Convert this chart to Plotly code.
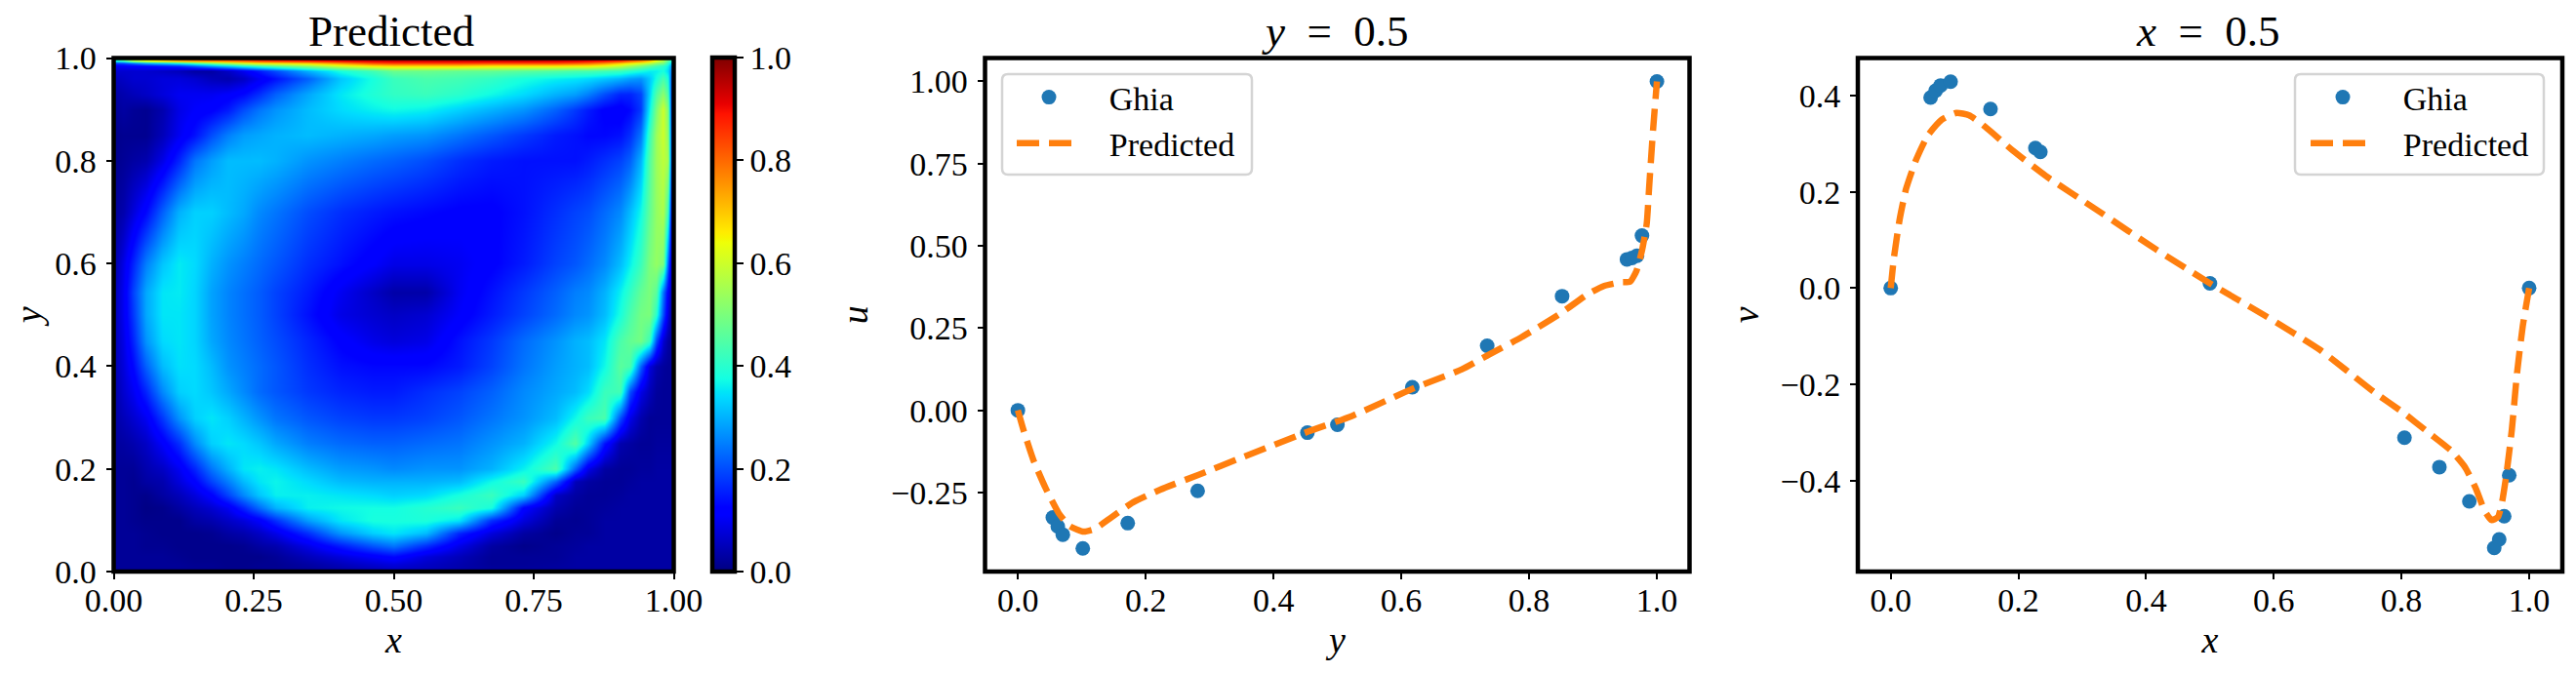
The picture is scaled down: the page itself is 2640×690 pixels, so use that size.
import plotly.graph_objects as go

# Centerline benchmark points
ghia_y = [0, 0.0547, 0.0625, 0.0703, 0.1016, 0.1719, 0.2813, 0.4531, 0.5, 0.6172, 0.7344, 0.8516, 0.9531, 0.9609, 0.9688, 0.9766, 1]
ghia_u = [0, -0.326, -0.353, -0.378, -0.42, -0.343, -0.245, -0.068, -0.044, 0.07, 0.196, 0.347, 0.459, 0.463, 0.47, 0.531, 1]
ghia_x = [0, 0.0625, 0.0703, 0.0781, 0.0938, 0.1563, 0.2266, 0.2344, 0.5, 0.8047, 0.8594, 0.9063, 0.9453, 0.9531, 0.9609, 0.9688, 1]
ghia_v = [0, 0.396, 0.41, 0.421, 0.429, 0.372, 0.291, 0.283, 0.01, -0.311, -0.372, -0.443, -0.54, -0.522, -0.474, -0.389, 0]

# Predicted curves
pred_y = [0, 0.0086, 0.024, 0.043, 0.064, 0.081, 0.103, 0.12, 0.146, 0.18, 0.223, 0.283, 0.351, 0.454, 0.523, 0.617,
          0.694, 0.737, 0.788, 0.848, 0.891, 0.917, 0.943, 0.958, 0.968, 0.977, 0.984, 0.988, 0.994, 1]
pred_u = [0, -0.059, -0.15, -0.235, -0.313, -0.352, -0.369, -0.361, -0.326, -0.28, -0.241, -0.196, -0.143, -0.065, -0.017, 0.065,
          0.124, 0.169, 0.222, 0.293, 0.352, 0.378, 0.389, 0.391, 0.424, 0.489, 0.567, 0.684, 0.854, 1]
pred_x = [0, 0.005, 0.014, 0.024, 0.039, 0.058, 0.08, 0.103, 0.123, 0.148, 0.191, 0.243, 0.329, 0.415, 0.5, 0.586, 0.672,
          0.758, 0.801, 0.844, 0.878, 0.9, 0.917, 0.93, 0.941, 0.951, 0.957, 0.964, 0.973, 0.981, 0.99, 1]
pred_v = [0, 0.063, 0.143, 0.206, 0.264, 0.317, 0.35, 0.364, 0.359, 0.335, 0.286, 0.233, 0.157, 0.081, 0.01, -0.057, -0.128,
          -0.217, -0.257, -0.302, -0.338, -0.373, -0.418, -0.462, -0.482, -0.476, -0.449, -0.391, -0.293, -0.177, -0.079, 0]

# Velocity magnitude, on a grid that gets finer near the walls
grid_x = [0, .017, .035, .058, .087, .116, .145, .174, .203, .231, .26, .289, .347, .405, .463, .5,
          .558, .616, .674, .731, .789, .824, .847, .876, .905, .922, .94, .957, .969, .98, .989, .995, 1]
grid_y = [0, .015, .03, .05, .075, .1, .125, .15, .175, .2, .25, .3, .35, .4, .45, .5, .544, .6, .7, .8, .85, .9, .93, .96,
          .975, .985, .99, .995, 1]
speed = [
    [.02, .02, .02, .02, .02, .02, .02, .015, .015, .015, .015, .02, .02, .03, .04, .05, .05, .04, .03, .03, .03, .03, .03, .03, .03, .03, .03, .03, .03, .03, .03, .03, .03],
    [.02, .02, .02, .02, .02, .02, .015, .015, .01, .01, .015, .015, .03, .05, .07, .08, .06, .04, .02, .02, .025, .03, .03, .03, .03, .03, .03, .03, .03, .03, .03, .03, .03],
    [.02, .02, .02, .02, .02, .015, .01, .01, .01, .01, .01, .02, .05, .08, .11, .13, .08, .05, .02, .02, .02, .03, .03, .03, .03, .03, .03, .03, .03, .03, .03, .03, .03],
    [.02, .02, .02, .015, .015, .01, .01, .01, .01, .015, .03, .04, .09, .15, .21, .24, .17, .09, .03, .01, .02, .025, .03, .03, .03, .03, .03, .03, .03, .03, .03, .03, .03],
    [.02, .02, .02, .015, .01, .01, .01, .015, .03, .04, .06, .09, .17, .27, .33, .35, .31, .16, .08, .03, .01, .02, .02, .03, .03, .03, .03, .03, .03, .03, .03, .03, .03],
    [.02, .02, .015, .01, .01, .01, .03, .04, .06, .08, .11, .17, .28, .35, .38, .38, .385, .35, .17, .08, .02, .015, .02, .03, .03, .03, .03, .03, .03, .03, .03, .03, .03],
    [.02, .02, .015, .005, .01, .03, .05, .07, .10, .16, .23, .30, .36, .37, .375, .375, .395, .42, .38, .12, .04, .02, .02, .025, .03, .03, .03, .03, .03, .03, .03, .03, .03],
    [.02, .02, .015, .01, .03, .05, .08, .12, .19, .26, .32, .36, .36, .35, .34, .33, .34, .38, .42, .33, .06, .03, .02, .02, .025, .03, .03, .03, .03, .03, .03, .03, .03],
    [.02, .02, .015, .03, .04, .08, .12, .19, .25, .31, .35, .365, .34, .31, .30, .30, .30, .31, .37, .42, .22, .05, .03, .02, .02, .025, .03, .03, .03, .03, .03, .03, .03],
    [.02, .02, .02, .04, .06, .10, .16, .24, .30, .35, .36, .35, .31, .28, .27, .26, .27, .27, .30, .36, .44, .22, .09, .03, .02, .02, .025, .025, .03, .03, .03, .03, .03],
    [.025, .03, .04, .06, .11, .17, .26, .33, .35, .34, .32, .29, .25, .23, .22, .22, .23, .24, .27, .30, .37, .45, .33, .14, .04, .03, .02, .02, .025, .025, .025, .025, .025],
    [.03, .05, .07, .10, .18, .27, .33, .35, .33, .30, .27, .24, .21, .19, .18, .18, .19, .21, .24, .27, .31, .37, .42, .44, .20, .09, .04, .02, .02, .02, .02, .02, .02],
    [.03, .07, .10, .16, .26, .33, .34, .32, .29, .26, .23, .21, .18, .16, .15, .15, .17, .19, .22, .26, .29, .31, .34, .42, .43, .20, .09, .05, .025, .02, .02, .02, .02],
    [.04, .08, .13, .22, .31, .345, .34, .31, .27, .25, .23, .21, .17, .14, .13, .13, .13, .15, .19, .24, .28, .30, .31, .37, .46, .44, .22, .08, .04, .025, .02, .02, .02],
    [.04, .09, .16, .27, .34, .35, .335, .29, .26, .24, .22, .20, .16, .12, .09, .08, .09, .14, .18, .23, .27, .30, .31, .35, .44, .47, .49, .42, .20, .07, .03, .02, .02],
    [.04, .10, .18, .29, .35, .35, .335, .285, .255, .235, .215, .19, .14, .09, .07, .06, .07, .11, .15, .19, .23, .26, .27, .31, .38, .44, .49, .50, .40, .20, .08, .03, .02],
    [.04, .10, .19, .29, .35, .355, .335, .285, .255, .235, .215, .19, .15, .10, .06, .035, .035, .10, .14, .18, .22, .25, .26, .30, .36, .41, .47, .50, .46, .24, .11, .05, .02],
    [.03, .09, .16, .25, .32, .355, .34, .30, .27, .25, .23, .21, .17, .14, .11, .09, .09, .10, .12, .15, .19, .21, .23, .26, .31, .36, .42, .50, .53, .50, .22, .08, .03],
    [.02, .04, .08, .13, .22, .30, .33, .33, .31, .29, .26, .24, .20, .17, .15, .14, .13, .12, .12, .14, .17, .19, .20, .23, .26, .31, .37, .47, .53, .56, .42, .15, .04],
    [.01, .02, .03, .04, .09, .16, .24, .28, .31, .31, .31, .30, .27, .25, .23, .22, .20, .17, .15, .14, .14, .14, .15, .17, .19, .22, .30, .45, .54, .58, .55, .22, .05],
    [.01, .015, .015, .015, .05, .10, .14, .20, .25, .28, .29, .30, .31, .30, .29, .28, .27, .24, .21, .18, .15, .14, .13, .13, .14, .17, .24, .42, .54, .60, .52, .22, .06],
    [.02, .03, .02, .015, .04, .09, .11, .12, .15, .20, .24, .27, .31, .34, .36, .37, .36, .33, .30, .27, .22, .18, .15, .12, .11, .13, .18, .36, .50, .60, .50, .20, .07],
    [.03, .04, .05, .06, .08, .10, .10, .10, .11, .13, .17, .22, .29, .35, .39, .41, .42, .40, .37, .34, .30, .28, .25, .20, .16, .16, .19, .33, .45, .52, .44, .20, .09],
    [.05, .06, .07, .07, .08, .08, .07, .05, .04, .06, .10, .14, .22, .32, .38, .42, .44, .43, .41, .38, .36, .35, .34, .32, .30, .28, .27, .32, .38, .44, .38, .22, .11],
    [.07, .07, .07, .07, .06, .05, .03, .03, .06, .10, .15, .20, .30, .38, .43, .48, .48, .47, .47, .46, .45, .44, .44, .43, .42, .40, .38, .36, .36, .38, .34, .25, .13],
    [.10, .11, .12, .13, .15, .17, .22, .28, .33, .38, .42, .46, .52, .60, .66, .68, .68, .68, .66, .66, .66, .65, .65, .62, .58, .54, .50, .46, .43, .40, .36, .28, .16],
    [.18, .20, .24, .30, .34, .38, .44, .50, .56, .62, .66, .67, .70, .76, .83, .85, .85, .85, .84, .84, .84, .82, .80, .76, .70, .66, .62, .58, .53, .50, .40, .34, .18],
    [.36, .42, .55, .62, .67, .72, .75, .77, .78, .80, .83, .85, .87, .90, .92, .93, .93, .93, .93, .93, .92, .91, .90, .88, .85, .80, .76, .70, .62, .55, .45, .40, .20],
    [.36, .52, .60, .66, .72, .78, .80, .82, .85, .87, .90, .92, .95, .97, .99, 1.0, 1.0, 1.0, 1.0, 1.0, 1.0, .99, .98, .96, .92, .88, .82, .76, .68, .60, .50, .42, .22],
]

# Matplotlib's jet, plotly's own Jet is a different ramp
jet = [[0, "rgb(0,0,128)"], [0.11, "rgb(0,0,255)"], [0.125, "rgb(0,0,255)"], [0.34, "rgb(0,219,255)"],
       [0.35, "rgb(0,230,247)"], [0.375, "rgb(20,255,226)"], [0.64, "rgb(238,255,8)"], [0.65, "rgb(247,245,0)"],
       [0.66, "rgb(255,236,0)"], [0.89, "rgb(255,19,0)"], [0.91, "rgb(232,0,0)"], [1, "rgb(128,0,0)"]]

# The page body has an 8px margin, so everything is placed 8px up and left of the target pixel
PAGE = 8
W, H = 2640 - PAGE, 690 - PAGE
TEXT_FONT = "Liberation Serif"
BLUE, ORANGE = "#1f77b4", "#ff7f0e"
top_px, bottom_px = 59.5 - PAGE, 586 - PAGE
y_domain = [1 - bottom_px / H, 1 - top_px / H]
panels_px = [(116.5, 690.5), (1009.5, 1731.5), (1904, 2626)]


def fx(px):
    return (px - PAGE) / W


def fy(px):
    return 1 - (px - PAGE) / H


fig = go.Figure()

fig.add_trace(go.Heatmap(x=grid_x, y=grid_y, z=speed, zmin=0, zmax=1, zsmooth="best", colorscale=jet, xaxis="x", yaxis="y",
                         colorbar=dict(x=fx(730), xanchor="left", xpad=0, y=y_domain[0], yanchor="bottom", ypad=0,
                                       len=y_domain[1] - y_domain[0], lenmode="fraction", thickness=23, thicknessmode="pixels",
                                       outlinewidth=4.5, outlinecolor="black", tickvals=[0, 0.2, 0.4, 0.6, 0.8, 1],
                                       ticktext=["0.0", "0.2", "0.4", "0.6", "0.8", "1.0"], ticks="outside", ticklen=7, tickwidth=2,
                                       tickcolor="black", tickfont=dict(family=TEXT_FONT, size=34, color="black"))))

# leading spaces make up the wider gap between the legend symbol and its text
fig.add_trace(go.Scatter(x=ghia_y, y=ghia_u, mode="markers", name="\u2002\u2009Ghia", xaxis="x2", yaxis="y2", legend="legend",
                         marker=dict(size=15, color=BLUE)))
fig.add_trace(go.Scatter(x=pred_y, y=pred_u, mode="lines", name="\u2002\u2009Predicted", xaxis="x2", yaxis="y2", legend="legend",
                         line=dict(color=ORANGE, width=6.5, dash="23px,10px", shape="spline", smoothing=0.5)))
fig.add_trace(go.Scatter(x=ghia_x, y=ghia_v, mode="markers", name="\u2002\u2009Ghia", xaxis="x3", yaxis="y3", legend="legend2",
                         marker=dict(size=15, color=BLUE)))
fig.add_trace(go.Scatter(x=pred_x, y=pred_v, mode="lines", name="\u2002\u2009Predicted", xaxis="x3", yaxis="y3", legend="legend2",
                         line=dict(color=ORANGE, width=6.5, dash="23px,10px", shape="spline", smoothing=0.5)))


def axis(standoff, **kw):
    return dict(showgrid=False, zeroline=False, showline=False, ticks="outside", ticklen=7, tickwidth=2, tickcolor="black",
                ticklabelstandoff=standoff, tickfont=dict(family=TEXT_FONT, size=34, color="black"), automargin=False, **kw)


def axis_title(text, standoff):
    return dict(text="<i>" + text + "</i>", font=dict(family=TEXT_FONT, size=38, color="black"), standoff=standoff)


def legend_box(x, y):
    return dict(x=fx(x), y=fy(y), xanchor="left", yanchor="top", bgcolor="rgba(0,0,0,0)", borderwidth=0, itemwidth=66,
                tracegroupgap=0, font=dict(family=TEXT_FONT, size=34, color="black"))


def rounded_frame(x0, y0, x1, y1, r=6):
    # legend frame with round corners, plotly's own legend border is square
    px = lambda a, b: f"{fx(a):.5f},{fy(b):.5f}"
    path = (f"M{px(x0 + r, y0)} L{px(x1 - r, y0)} Q{px(x1, y0)} {px(x1, y0 + r)} L{px(x1, y1 - r)} Q{px(x1, y1)} {px(x1 - r, y1)} "
            f"L{px(x0 + r, y1)} Q{px(x0, y1)} {px(x0, y1 - r)} L{px(x0, y0 + r)} Q{px(x0, y0)} {px(x0 + r, y0)} Z")
    return dict(type="path", path=path, xref="paper", yref="paper", line=dict(color="#d4d4d4", width=2.5), fillcolor="white", layer="below")


def frame(name):
    return dict(type="rect", xref=f"{name} domain", yref=f"{name.replace('x', 'y')} domain", x0=0, x1=1, y0=0, y1=1,
                line=dict(color="black", width=4.5), layer="above")


def subplot_title(text, x):
    return dict(text=text, x=fx(x), y=fy(32), xref="paper", yref="paper", xanchor="center", yanchor="middle", showarrow=False,
                font=dict(family=TEXT_FONT, size=45, color="black"))


dom = lambda p: [fx(p[0]), fx(p[1])]

layout = dict(
    width=W, height=H, margin=dict(l=0, r=0, t=0, b=0), paper_bgcolor="white", plot_bgcolor="white",
    xaxis=axis(-8, domain=dom(panels_px[0]), range=[0, 1], anchor="y", tickvals=[0, 0.25, 0.5, 0.75, 1], tickformat=".2f",
               title=axis_title("x", 9)),
    yaxis=axis(3, domain=y_domain, range=[0, 1], anchor="x", tickvals=[0, 0.2, 0.4, 0.6, 0.8, 1], tickformat=".1f",
               title=axis_title("y", 12)),
    xaxis2=axis(-8, domain=dom(panels_px[1]), range=[-0.0514, 1.051], anchor="y2", tickvals=[0, 0.2, 0.4, 0.6, 0.8, 1], tickformat=".1f",
                title=axis_title("y", 9)),
    yaxis2=axis(3, domain=y_domain, range=[-0.4903, 1.071], anchor="x2", tickvals=[-0.25, 0, 0.25, 0.5, 0.75, 1], tickformat=".2f",
                title=axis_title("u", 11)),
    xaxis3=axis(-8, domain=dom(panels_px[2]), range=[-0.0515, 1.052], anchor="y3", tickvals=[0, 0.2, 0.4, 0.6, 0.8, 1], tickformat=".1f",
                title=axis_title("x", 9)),
    yaxis3=axis(3, domain=y_domain, range=[-0.589, 0.478], anchor="x3", tickvals=[-0.4, -0.2, 0, 0.2, 0.4], tickformat=".1f",
                title=axis_title("v", 10)),
    legend=legend_box(1037, 71),
    legend2=legend_box(2363, 71),
    shapes=[rounded_frame(1027, 76, 1283, 179), rounded_frame(2352, 76, 2607, 179), frame("x"), frame("x2"), frame("x3")],
    annotations=[subplot_title("Predicted", 401), subplot_title("<i>y</i>\u2002=\u20020.5", 1368), subplot_title("<i>x</i>\u2002=\u20020.5", 2263)],
)

fig.update_layout(**layout)
fig.write_html("out.html")
